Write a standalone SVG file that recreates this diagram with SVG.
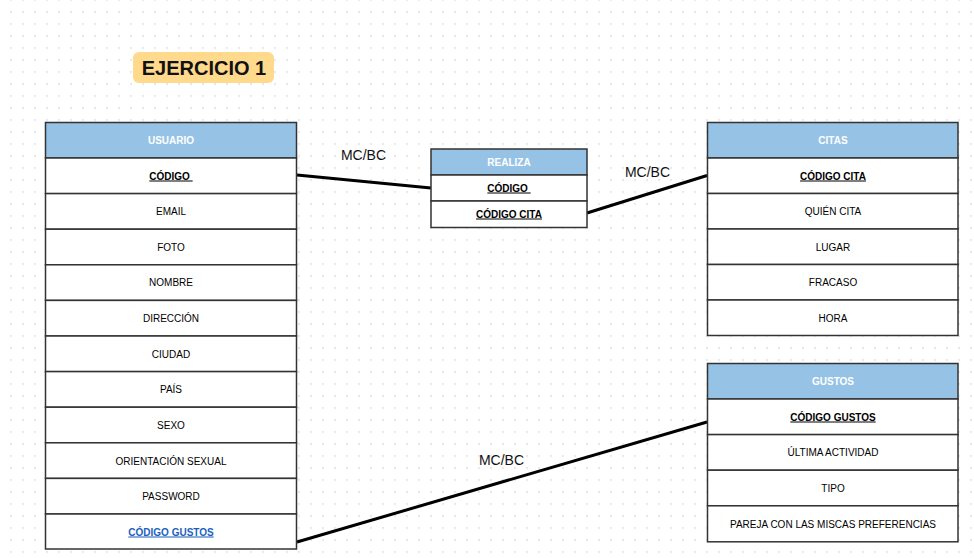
<svg xmlns="http://www.w3.org/2000/svg" width="974" height="558" viewBox="0 0 974 558">
  <style>
    text { font-family: "Liberation Sans", Arial, sans-serif; }
    .hdr { fill: #96c3e5; stroke: #333; stroke-width: 1.5; }
    .row { fill: #ffffff; stroke: #333; stroke-width: 1.5; }
    .htxt { fill: #ffffff; font-size: 10px; font-weight: bold; text-anchor: middle; }
    .txt { fill: #000000; font-size: 10px; text-anchor: middle; }
    .key { fill: #000000; font-size: 10px; font-weight: bold; text-anchor: middle; text-decoration: underline; }
    .link { fill: #1a5fbf; font-size: 10px; font-weight: bold; text-anchor: middle; text-decoration: underline; }
    .rel { fill: #111; font-size: 14px; text-anchor: middle; }
    .conn { stroke: #000; stroke-width: 3; fill: none; }
  </style>
  <defs>
    <pattern id="dots" x="0" y="-0.75" width="12" height="12" patternUnits="userSpaceOnUse">
      <rect x="10.25" y="0" width="1.5" height="1.5" fill="#d6d6dc"/>
    </pattern>
  </defs>

  <!-- canvas -->
  <rect x="0" y="0" width="974" height="558" fill="#ffffff"/>
  <rect x="0" y="0" width="974" height="558" fill="url(#dots)"/>

  <!-- title -->
  <g id="title">
    <rect x="133" y="52" width="141" height="31" rx="6" fill="#ffd98c"/>
    <text x="204" y="75" font-size="20" font-weight="bold" fill="#111" text-anchor="middle">EJERCICIO 1</text>
  </g>

  <!-- connectors -->
  <g id="connectors">
    <line class="conn" x1="297" y1="175" x2="431" y2="188"/>
    <line class="conn" x1="587" y1="213" x2="707" y2="175.5"/>
    <line class="conn" x1="297" y1="542" x2="707" y2="422"/>
    <text class="rel" x="363.5" y="160">MC/BC</text>
    <text class="rel" x="647.5" y="177">MC/BC</text>
    <text class="rel" x="501.5" y="465">MC/BC</text>
  </g>

  <!-- USUARIO -->
  <g id="usuario">
    <rect class="hdr" x="45.5" y="122.5" width="251" height="35.5"/>
    <rect class="row" x="45.5" y="158" width="251" height="35.6"/>
    <rect class="row" x="45.5" y="193.6" width="251" height="35.6"/>
    <rect class="row" x="45.5" y="229.2" width="251" height="35.6"/>
    <rect class="row" x="45.5" y="264.8" width="251" height="35.6"/>
    <rect class="row" x="45.5" y="300.4" width="251" height="35.6"/>
    <rect class="row" x="45.5" y="336" width="251" height="35.6"/>
    <rect class="row" x="45.5" y="371.6" width="251" height="35.6"/>
    <rect class="row" x="45.5" y="407.2" width="251" height="35.6"/>
    <rect class="row" x="45.5" y="442.8" width="251" height="35.6"/>
    <rect class="row" x="45.5" y="478.4" width="251" height="35.6"/>
    <rect class="row" x="45.5" y="514" width="251" height="35"/>
    <text class="htxt" x="171" y="144">USUARIO</text>
    <text class="key" x="171" y="179.5">CÓDIGO&#160;</text>
    <text class="txt" x="171" y="215">EMAIL</text>
    <text class="txt" x="171" y="250.5">FOTO</text>
    <text class="txt" x="171" y="286">NOMBRE</text>
    <text class="txt" x="171" y="322">DIRECCIÓN</text>
    <text class="txt" x="171" y="357.5">CIUDAD</text>
    <text class="txt" x="171" y="393">PAÍS</text>
    <text class="txt" x="171" y="429">SEXO</text>
    <text class="txt" x="171" y="464.5">ORIENTACIÓN SEXUAL</text>
    <text class="txt" x="171" y="500">PASSWORD</text>
    <text class="link" x="171" y="535.5">CÓDIGO GUSTOS</text>
  </g>

  <!-- REALIZA -->
  <g id="realiza">
    <rect class="hdr" x="431" y="149" width="156" height="26"/>
    <rect class="row" x="431" y="175" width="156" height="26"/>
    <rect class="row" x="431" y="201" width="156" height="26.5"/>
    <text class="htxt" x="509" y="165.5">REALIZA</text>
    <text class="key" x="509" y="191.5">CÓDIGO&#160;</text>
    <text class="key" x="509" y="217.5">CÓDIGO CITA</text>
  </g>

  <!-- CITAS -->
  <g id="citas">
    <rect class="hdr" x="707.5" y="122.5" width="250.5" height="35.5"/>
    <rect class="row" x="707.5" y="158" width="250.5" height="35.5"/>
    <rect class="row" x="707.5" y="193.5" width="250.5" height="35.5"/>
    <rect class="row" x="707.5" y="229" width="250.5" height="35.5"/>
    <rect class="row" x="707.5" y="264.5" width="250.5" height="35.5"/>
    <rect class="row" x="707.5" y="300" width="250.5" height="35.5"/>
    <text class="htxt" x="833" y="144">CITAS</text>
    <text class="key" x="833" y="179.5">CÓDIGO CITA</text>
    <text class="txt" x="833" y="215">QUIÉN CITA</text>
    <text class="txt" x="833" y="250.5">LUGAR</text>
    <text class="txt" x="833" y="286">FRACASO</text>
    <text class="txt" x="833" y="322">HORA</text>
  </g>

  <!-- GUSTOS -->
  <g id="gustos">
    <rect class="hdr" x="707.5" y="363.5" width="250.5" height="35.5"/>
    <rect class="row" x="707.5" y="399" width="250.5" height="35.6"/>
    <rect class="row" x="707.5" y="434.6" width="250.5" height="35.6"/>
    <rect class="row" x="707.5" y="470.2" width="250.5" height="35.6"/>
    <rect class="row" x="707.5" y="505.8" width="250.5" height="36"/>
    <text class="htxt" x="833" y="385">GUSTOS</text>
    <text class="key" x="833" y="420.5">CÓDIGO GUSTOS</text>
    <text class="txt" x="833" y="456">ÚLTIMA ACTIVIDAD</text>
    <text class="txt" x="833" y="491.5">TIPO</text>
    <text class="txt" x="833" y="527.5">PAREJA CON LAS MISCAS PREFERENCIAS</text>
  </g>
</svg>
